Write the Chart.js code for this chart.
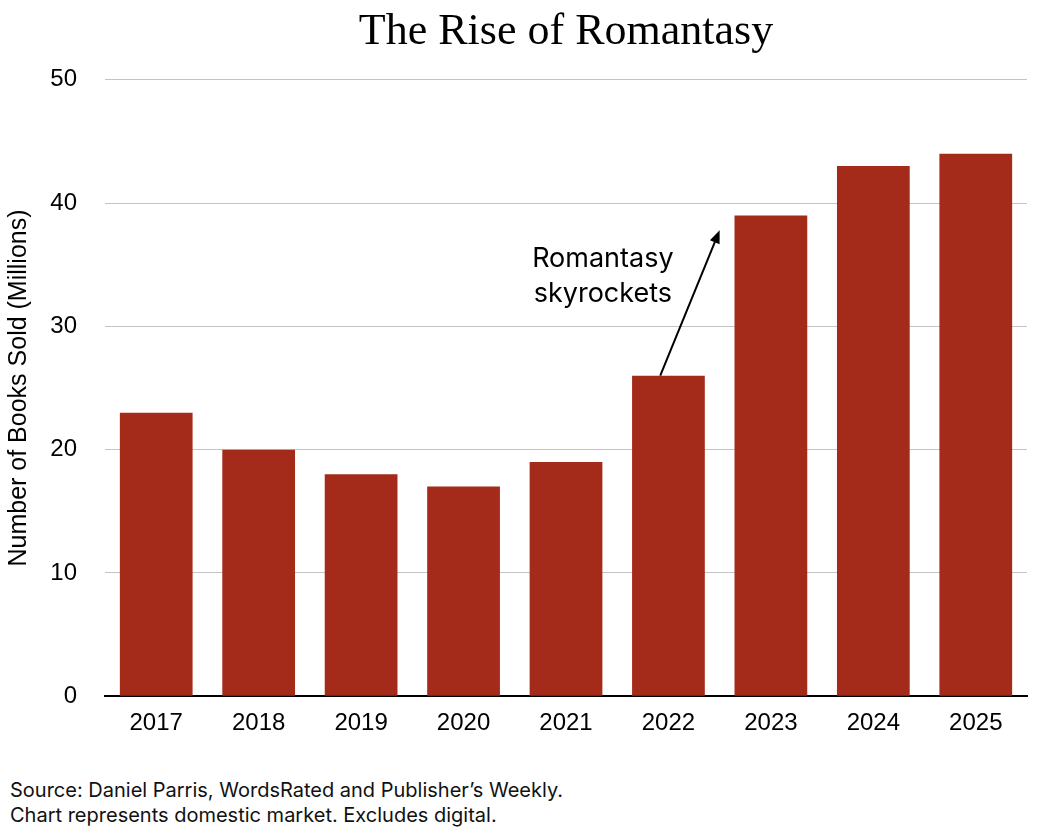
<!DOCTYPE html>
<html>
<head>
    <title>The Rise of Romantasy</title>
    <script src="https://cdn.jsdelivr.net/npm/chart.js"></script>
    <style>
        body { margin: 0; background: #fff; width: 1041px; height: 833px; overflow: hidden; }
        #wrap { position: absolute; left: 0; top: 0; width: 1041px; height: 751px; }
        .note { position: absolute; left: 10px; font-family: Inter, "Liberation Sans", sans-serif; font-size: 20px; color: #111; }
    </style>
</head>
<body>
    <div id="wrap"><canvas id="chart"></canvas></div>
    <div class="note" style="top: 778px;">Source: Daniel Parris, WordsRated and Publisher’s Weekly.</div>
    <div class="note" style="top: 803px;">Chart represents domestic market. Excludes digital.</div>

    <script>
        // data
        const years = ['2017', '2018', '2019', '2020', '2021', '2022', '2023', '2024', '2025'];
        const booksSold = [23, 20, 18, 17, 19, 26, 39, 43, 44];
        const noteLines = ['Romantasy', 'skyrockets'];
        // arrow: from top of 2022 bar to the 2023 bar, in data units (category index, value)
        const arrowFrom = [4.92, 26];
        const arrowTo = [5.5, 37.8];
        const notePos = [4.36, 35.5];

        const barColor = '#A42A1A';
        const sans = '"Liberation Sans", Arial, sans-serif';
        const noteFont = 'Inter, "Liberation Sans", sans-serif';

        // annotation plugin
        const annotate = {
            id: 'annotate',
            afterDatasetsDraw(chart) {
                const ctx = chart.ctx;
                const x = chart.scales.x, y = chart.scales.y;
                const x1 = x.getPixelForValue(arrowFrom[0]), y1 = y.getPixelForValue(arrowFrom[1]);
                const x2 = x.getPixelForValue(arrowTo[0]), y2 = y.getPixelForValue(arrowTo[1]);
                ctx.save();
                ctx.strokeStyle = '#000';
                ctx.fillStyle = '#000';
                ctx.lineWidth = 2;
                const ang = Math.atan2(y2 - y1, x2 - x1);
                const head = 14;
                ctx.beginPath();
                ctx.moveTo(x1, y1);
                ctx.lineTo(x2 - Math.cos(ang) * head * 0.8, y2 - Math.sin(ang) * head * 0.8);
                ctx.stroke();
                ctx.beginPath();
                ctx.moveTo(x2, y2);
                ctx.lineTo(x2 - head * Math.cos(ang - 0.38), y2 - head * Math.sin(ang - 0.38));
                ctx.lineTo(x2 - head * Math.cos(ang + 0.38), y2 - head * Math.sin(ang + 0.38));
                ctx.closePath();
                ctx.fill();

                ctx.font = '27px ' + noteFont;
                ctx.textAlign = 'center';
                ctx.textBaseline = 'middle';
                const tx = x.getPixelForValue(notePos[0]);
                const ty = y.getPixelForValue(notePos[1]);
                noteLines.forEach((line, i) => ctx.fillText(line, tx, ty + i * 35));
                ctx.restore();
            }
        };

        new Chart(document.getElementById('chart'), {
            type: 'bar',
            data: {
                labels: years,
                datasets: [{
                    data: booksSold,
                    backgroundColor: barColor,
                    barPercentage: 0.71,
                    categoryPercentage: 1.0
                }]
            },
            options: {
                responsive: true,
                maintainAspectRatio: false,
                animation: false,
                layout: { padding: { left: 0, right: 14, top: 6, bottom: 0 } },
                plugins: {
                    legend: { display: false },
                    tooltip: { enabled: false },
                    title: {
                        display: true,
                        fullSize: false,
                        text: 'The Rise of Romantasy',
                        color: '#000',
                        font: { family: '"Liberation Serif", "DejaVu Serif", serif', size: 44, weight: 'normal' },
                        padding: { top: 0, bottom: 21 }
                    }
                },
                scales: {
                    x: {
                        grid: { display: false, drawTicks: false },
                        border: { color: '#000', width: 2 },
                        ticks: {
                            color: '#000',
                            padding: 13,
                            font: { family: sans, size: 24 }
                        }
                    },
                    y: {
                        min: 0,
                        max: 50,
                        afterFit(scale) { scale.width = 105; },
                        grid: { color: '#c4c4c4', lineWidth: 1, drawTicks: false },
                        border: { display: false },
                        ticks: {
                            stepSize: 10,
                            color: '#000',
                            padding: 28,
                            font: { family: sans, size: 24 }
                        },
                        title: {
                            display: true,
                            text: 'Number of Books Sold (Millions)',
                            color: '#000',
                            font: { family: sans, size: 25 },
                            padding: { top: 4, bottom: 0 }
                        }
                    }
                }
            },
            plugins: [annotate]
        });
    </script>
</body>
</html>
